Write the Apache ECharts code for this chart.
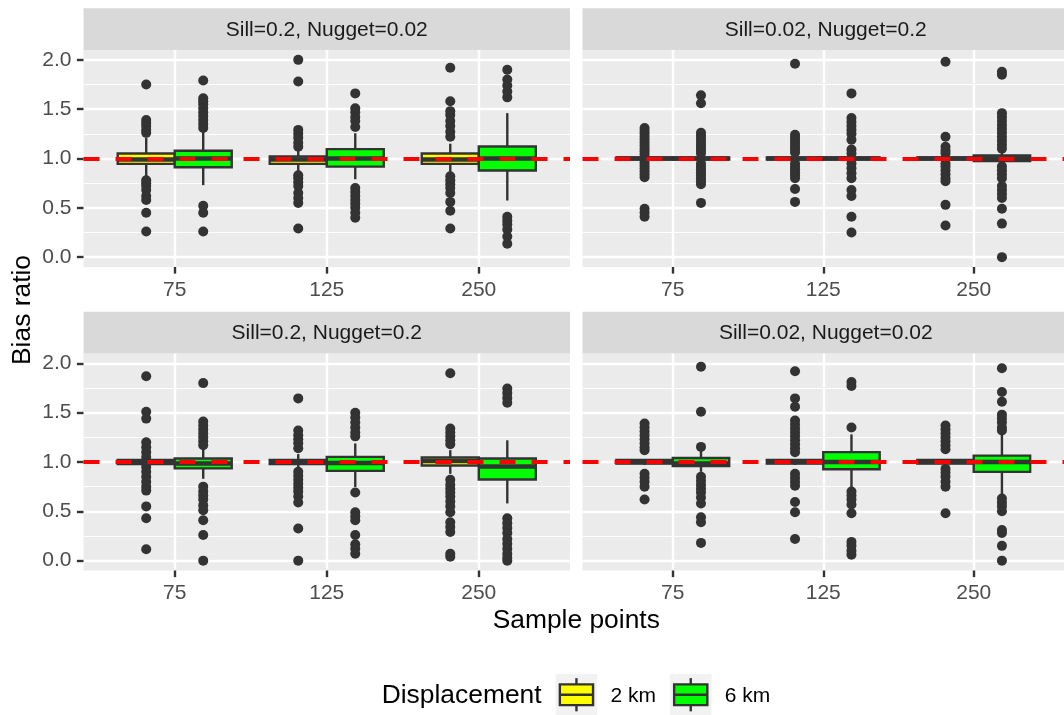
<!DOCTYPE html>
<html>
<head>
<meta charset="utf-8">
<script src="https://cdn.jsdelivr.net/npm/echarts@6/dist/echarts.min.js"></script>
<style>
  html, body { margin: 0; padding: 0; background: #ffffff; }
  #chart { width: 1064px; height: 715px; }
</style>
</head>
<body>
<div id="chart"></div>
<script>
// ---- data -------------------------------------------------------------
const sampleSizes = ['75', '125', '250'];
const panelTitles = [
  'Sill=0.2, Nugget=0.02',
  'Sill=0.02, Nugget=0.2',
  'Sill=0.2, Nugget=0.2',
  'Sill=0.02, Nugget=0.02'
];
const displacements = ['2 km', '6 km'];
const yTicks = [0, 0.5, 1, 1.5, 2];
const yMinorTicks = [0.25, 0.75, 1.25, 1.75];
const referenceRatio = 1;

// box statistics per sample size: [lower whisker, Q1, median, Q3, upper whisker]
// outliers per sample size

// Sill=0.2, Nugget=0.02
const boxA2 = [[0.82, 0.946, 0.99, 1.05, 1.21], [0.87, 0.945, 0.99, 1.02, 1.105], [0.85, 0.946, 0.99, 1.05, 1.15]];
const boxA6 = [[0.73, 0.912, 1.0, 1.078, 1.27], [0.79, 0.918, 1.0, 1.095, 1.256], [0.574, 0.878, 1.0, 1.121, 1.46]];
const outA2 = [
  [1.75, 1.39, 1.36, 1.33, 1.29, 1.26, 0.78, 0.75, 0.72, 0.68, 0.62, 0.58, 0.45, 0.26],
  [2.0, 1.78, 1.29, 1.25, 1.21, 1.16, 1.12, 0.83, 0.80, 0.76, 0.72, 0.65, 0.60, 0.55, 0.29],
  [1.92, 1.58, 1.48, 1.44, 1.38, 1.33, 1.27, 1.22, 0.82, 0.78, 0.74, 0.70, 0.65, 0.56, 0.47, 0.29]
];
const outA6 = [
  [1.79, 1.61, 1.58, 1.55, 1.51, 1.47, 1.43, 1.39, 1.35, 1.31, 0.52, 0.45, 0.26],
  [1.66, 1.51, 1.47, 1.42, 1.38, 1.32, 0.70, 0.66, 0.62, 0.58, 0.54, 0.50, 0.45, 0.40],
  [1.90, 1.80, 1.74, 1.68, 1.62, 0.41, 0.37, 0.33, 0.28, 0.21, 0.135]
];

// Sill=0.02, Nugget=0.2
const boxB2 = [[0.97, 0.99, 1.0, 1.01, 1.03], [0.97, 0.99, 1.0, 1.01, 1.03], [0.97, 0.99, 1.0, 1.01, 1.03]];
const boxB6 = [[0.97, 0.99, 1.0, 1.01, 1.03], [0.97, 0.99, 1.0, 1.01, 1.03], [0.94, 0.975, 1.0, 1.03, 1.07]];
const outB2 = [
  [1.31, 1.28, 1.25, 1.22, 1.19, 1.16, 1.13, 1.10, 1.07, 1.04, 0.96, 0.93, 0.90, 0.87, 0.84, 0.81, 0.49, 0.45, 0.41],
  [1.96, 1.24, 1.21, 1.18, 1.15, 1.12, 1.09, 1.06, 0.95, 0.92, 0.89, 0.86, 0.83, 0.80, 0.69, 0.56],
  [1.98, 1.22, 1.12, 1.08, 1.05, 0.95, 0.92, 0.88, 0.84, 0.80, 0.77, 0.53, 0.32]
];
const outB6 = [
  [1.64, 1.56, 1.26, 1.23, 1.20, 1.17, 1.14, 1.11, 1.08, 1.05, 0.95, 0.92, 0.89, 0.86, 0.83, 0.80, 0.77, 0.74, 0.55],
  [1.66, 1.41, 1.37, 1.33, 1.29, 1.25, 1.19, 1.09, 1.05, 0.95, 0.90, 0.85, 0.80, 0.68, 0.62, 0.41, 0.25],
  [1.88, 1.85, 1.46, 1.42, 1.38, 1.34, 1.30, 1.26, 1.22, 1.18, 1.14, 1.10, 0.92, 0.88, 0.84, 0.80, 0.72, 0.68, 0.64, 0.60, 0.49, 0.34, 0.0]
];

// Sill=0.2, Nugget=0.2
const boxC2 = [[0.97, 0.98, 1.0, 1.02, 1.03], [0.93, 0.98, 1.0, 1.02, 1.08], [0.88, 0.965, 1.01, 1.045, 1.12]];
const boxC6 = [[0.83, 0.935, 0.985, 1.035, 1.153], [0.747, 0.91, 0.99, 1.052, 1.188], [0.58, 0.822, 0.955, 1.035, 1.22]];
const outC2 = [
  [1.87, 1.51, 1.44, 1.20, 1.15, 1.10, 1.05, 0.95, 0.90, 0.85, 0.80, 0.75, 0.71, 0.55, 0.43, 0.115],
  [1.645, 1.32, 1.27, 1.23, 1.19, 1.14, 0.90, 0.86, 0.82, 0.78, 0.74, 0.70, 0.65, 0.59, 0.325, 0.0],
  [1.90, 1.34, 1.30, 1.26, 1.22, 1.18, 0.82, 0.77, 0.73, 0.69, 0.65, 0.60, 0.55, 0.49, 0.39, 0.34, 0.29, 0.07, 0.04]
];
const outC6 = [
  [1.80, 1.41, 1.37, 1.33, 1.29, 1.25, 1.21, 1.17, 0.75, 0.70, 0.66, 0.62, 0.56, 0.51, 0.41, 0.26, 0.0],
  [1.50, 1.45, 1.40, 1.35, 1.30, 1.26, 0.69, 0.49, 0.45, 0.41, 0.26, 0.165, 0.12, 0.07],
  [1.745, 1.70, 1.65, 1.60, 0.43, 0.38, 0.33, 0.28, 0.22, 0.17, 0.12, 0.07, 0.03, 0.0]
];

// Sill=0.02, Nugget=0.02
const boxD2 = [[0.97, 0.985, 1.0, 1.02, 1.03], [0.97, 0.985, 1.0, 1.02, 1.03], [0.97, 0.985, 1.0, 1.02, 1.03]];
const boxD6 = [[0.90, 0.96, 0.985, 1.04, 1.12], [0.747, 0.927, 1.0, 1.10, 1.28], [0.646, 0.90, 1.0, 1.065, 1.29]];
const outD2 = [
  [1.39, 1.35, 1.31, 1.27, 1.23, 1.19, 1.15, 1.12, 0.88, 0.84, 0.80, 0.75, 0.62],
  [1.92, 1.645, 1.56, 1.42, 1.38, 1.34, 1.30, 1.26, 1.22, 1.18, 1.14, 1.10, 0.88, 0.84, 0.80, 0.76, 0.595, 0.49, 0.22],
  [1.37, 1.33, 1.29, 1.25, 1.21, 1.17, 1.13, 0.93, 0.89, 0.85, 0.80, 0.75, 0.48]
];
const outD6 = [
  [1.965, 1.51, 1.153, 0.85, 0.81, 0.77, 0.73, 0.69, 0.64, 0.58, 0.44, 0.39, 0.18],
  [1.81, 1.77, 1.35, 0.70, 0.66, 0.62, 0.57, 0.48, 0.19, 0.15, 0.10, 0.06],
  [1.95, 1.71, 1.61, 1.48, 1.44, 1.40, 1.35, 1.32, 0.63, 0.59, 0.55, 0.50, 0.31, 0.28, 0.15, 0.0]
];

// ---- layout & style ---------------------------------------------------
const FONT = "'Liberation Sans', Arial, Helvetica, sans-serif";
const fills = ['#FFFF00', '#00FF00'];
const ink = '#333333';
const dodge = [-0.1875, 0.1875];
const boxWidth = 0.375;
const panelLeft = [83.5, 582.5];
const panelTop = [50, 353.5];
const panelW = 486.5;
const panelH = 217;
const stripH = 41.7;

const panels = [
  { title: panelTitles[0], boxes: [boxA2, boxA6], outliers: [outA2, outA6], row: 0, col: 0 },
  { title: panelTitles[1], boxes: [boxB2, boxB6], outliers: [outB2, outB6], row: 0, col: 1 },
  { title: panelTitles[2], boxes: [boxC2, boxC6], outliers: [outC2, outC6], row: 1, col: 0 },
  { title: panelTitles[3], boxes: [boxD2, boxD6], outliers: [outD2, outD6], row: 1, col: 1 }
];

function boxRows(stats, k) {
  return stats.map((s, i) => [i + 1 + dodge[k]].concat(s));
}
function outlierPoints(lists, k) {
  const pts = [];
  lists.forEach((vals, i) => vals.forEach(v => pts.push([i + 1 + dodge[k], v])));
  return pts;
}

function makeBoxRenderer(fill) {
  return function (params, api) {
    const x = api.value(0);
    const lo = api.coord([x, api.value(1)]);
    const q1 = api.coord([x, api.value(2)]);
    const md = api.coord([x, api.value(3)]);
    const q3 = api.coord([x, api.value(4)]);
    const hi = api.coord([x, api.value(5)]);
    const halfW = api.size([boxWidth, 0])[0] / 2;
    const cx = lo[0];
    const lineStyle = { stroke: ink, lineWidth: 2.4 };
    return {
      type: 'group',
      children: [
        { type: 'line', shape: { x1: cx, y1: hi[1], x2: cx, y2: q3[1] }, style: lineStyle },
        { type: 'line', shape: { x1: cx, y1: q1[1], x2: cx, y2: lo[1] }, style: lineStyle },
        { type: 'rect', shape: { x: cx - halfW, y: q3[1], width: 2 * halfW, height: q1[1] - q3[1] },
          style: { fill: fill, stroke: ink, lineWidth: 2.4 } },
        { type: 'line', shape: { x1: cx - halfW, y1: md[1], x2: cx + halfW, y2: md[1] },
          style: { stroke: ink, lineWidth: 4.6 } }
      ]
    };
  };
}

const grids = [], xAxes = [], yAxes = [], series = [], graphics = [];

panels.forEach((p, i) => {
  const left = panelLeft[p.col];
  const top = panelTop[p.row];
  const showY = p.col === 0;

  grids.push({
    left: left, top: top, width: panelW, height: panelH,
    show: true, backgroundColor: '#EBEBEB', borderWidth: 0, borderColor: 'transparent'
  });

  xAxes.push({
    gridIndex: i, type: 'value', min: 0.4, max: 3.6,
    axisLine: { show: false, onZero: false },
    axisTick: { show: true, customValues: [1, 2, 3], length: 6.6, lineStyle: { color: ink, width: 2.4 } },
    axisLabel: {
      customValues: [1, 2, 3], margin: 12.5,
      formatter: v => sampleSizes[Math.round(v) - 1],
      color: '#4D4D4D', fontSize: 21, fontFamily: FONT
    },
    splitLine: { show: true, lineStyle: { color: '#FFFFFF', width: 2.4 } }
  });

  yAxes.push({
    gridIndex: i, type: 'value', min: -0.1, max: 2.1,
    axisLine: { show: false, onZero: false },
    axisTick: { show: showY, customValues: yTicks, length: 6.6, lineStyle: { color: ink, width: 2.4 } },
    axisLabel: {
      show: showY, customValues: yTicks, margin: 12, padding: [6, 0, 0, 0],
      formatter: v => v.toFixed(1),
      color: '#4D4D4D', fontSize: 21, fontFamily: FONT
    },
    splitLine: { show: true, lineStyle: { color: '#FFFFFF', width: 2.4 } }
  });
  yAxes.push({
    gridIndex: i, type: 'value', min: -0.1, max: 2.1, position: 'left',
    axisLine: { show: false, onZero: false },
    axisTick: { show: false, customValues: yMinorTicks },
    axisLabel: { show: false, customValues: yMinorTicks },
    splitLine: { show: true, lineStyle: { color: '#FFFFFF', width: 1.2 } }
  });

  [0, 1].forEach(k => {
    series.push({
      name: displacements[k], type: 'custom', coordinateSystem: 'cartesian2d',
      xAxisIndex: i, yAxisIndex: 2 * i,
      renderItem: makeBoxRenderer(fills[k]),
      encode: { x: 0, y: [1, 2, 3, 4, 5] },
      data: boxRows(p.boxes[k], k),
      silent: true, z: 2
    });
    const sc = {
      name: displacements[k], type: 'scatter',
      xAxisIndex: i, yAxisIndex: 2 * i,
      symbol: 'circle', symbolSize: 10,
      itemStyle: { color: ink, opacity: 1 },
      data: outlierPoints(p.outliers[k], k),
      silent: true, z: 3
    };
    if (k === 1) {
      sc.markLine = {
        silent: true, symbol: 'none', animation: false, z: 10,
        label: { show: false },
        lineStyle: { color: '#FF0000', width: 4, type: [16, 16], opacity: 1 },
        emphasis: { disabled: true },
        data: [{ yAxis: referenceRatio }]
      };
    }
    series.push(sc);
  });

  // facet strip
  graphics.push({
    type: 'rect', silent: true,
    shape: { x: left, y: top - stripH, width: panelW, height: stripH },
    style: { fill: '#D9D9D9' }
  });
  graphics.push({
    type: 'text', silent: true,
    x: left + panelW / 2, y: top - stripH / 2 + 0.8,
    style: { text: p.title, align: 'center', verticalAlign: 'middle',
             fill: '#1A1A1A', font: '21px ' + FONT }
  });
});

// axis titles
graphics.push({
  type: 'text', silent: true, x: 23, y: 310, rotation: Math.PI / 2,
  style: { text: 'Bias ratio', align: 'center', verticalAlign: 'middle', fill: '#000000', font: '26.4px ' + FONT }
});
graphics.push({
  type: 'text', silent: true, x: (panelLeft[0] + panelLeft[1] + panelW) / 2, y: 621,
  style: { text: 'Sample points', align: 'center', verticalAlign: 'middle', fill: '#000000', font: '26.4px ' + FONT }
});

// legend
graphics.push({
  type: 'text', silent: true, x: 381.7, y: 696,
  style: { text: 'Displacement', align: 'left', verticalAlign: 'middle', fill: '#000000', font: '26.4px ' + FONT }
});
const keyX = [555.7, 670];
const keyY = 674;
const keyS = 41.5;
displacements.forEach((label, k) => {
  const x0 = keyX[k];
  const cx = x0 + keyS / 2;
  graphics.push({ type: 'rect', silent: true, shape: { x: x0, y: keyY, width: keyS, height: keyS }, style: { fill: '#F2F2F2' } });
  graphics.push({ type: 'line', silent: true, shape: { x1: cx, y1: keyY + keyS * 0.1, x2: cx, y2: keyY + keyS * 0.9 }, style: { stroke: ink, lineWidth: 2.4 } });
  graphics.push({ type: 'rect', silent: true,
    shape: { x: x0 + keyS * 0.1, y: keyY + keyS * 0.25, width: keyS * 0.8, height: keyS * 0.5 },
    style: { fill: fills[k], stroke: ink, lineWidth: 2.4 } });
  graphics.push({ type: 'line', silent: true,
    shape: { x1: x0 + keyS * 0.1, y1: keyY + keyS / 2, x2: x0 + keyS * 0.9, y2: keyY + keyS / 2 },
    style: { stroke: ink, lineWidth: 2.4 } });
  graphics.push({
    type: 'text', silent: true, x: x0 + keyS + 13.2, y: 696.5,
    style: { text: label, align: 'left', verticalAlign: 'middle', fill: '#000000', font: '21px ' + FONT }
  });
});

const chart = echarts.init(document.getElementById('chart'), null, { renderer: 'canvas' });
chart.setOption({
  animation: false,
  backgroundColor: '#FFFFFF',
  textStyle: { fontFamily: FONT },
  grid: grids,
  xAxis: xAxes,
  yAxis: yAxes,
  series: series,
  graphic: { elements: graphics }
});
</script>
</body>
</html>
